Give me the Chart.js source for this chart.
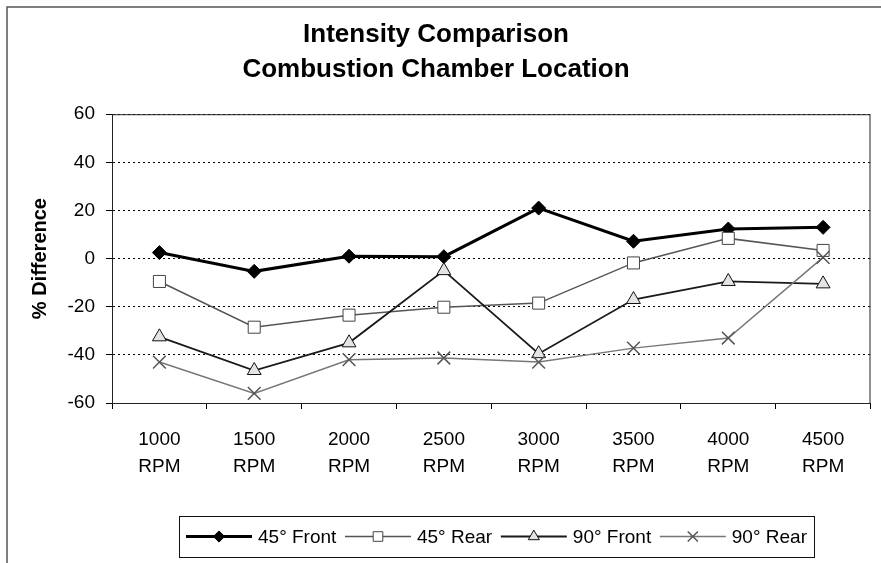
<!DOCTYPE html>
<html>
<head>
<meta charset="utf-8">
<title>Intensity Comparison</title>
<script src="https://cdn.jsdelivr.net/npm/chart.js@4/dist/chart.umd.min.js"></script>
<style>
  html, body { margin: 0; padding: 0; background: #fff; }
  #wrap { width: 881px; height: 563px; position: relative; }
</style>
</head>
<body>
<div id="wrap"><canvas id="c" width="881" height="563"></canvas></div>
<script>
// Engine speeds (x categories)
const categories = [['1000', 'RPM'], ['1500', 'RPM'], ['2000', 'RPM'], ['2500', 'RPM'],
                    ['3000', 'RPM'], ['3500', 'RPM'], ['4000', 'RPM'], ['4500', 'RPM']];

// % difference in intensity per combustion chamber location
const front45 = [2.5, -5.3, 1, 0.8, 21, 7.2, 12.3, 13];
const rear45  = [-9.5, -28.5, -23.5, -20.2, -18.5, -1.8, 8.4, 3.4];
const front90 = [-32.5, -46.5, -35, -5, -39.5, -17, -9.5, -10.5];
const rear90  = [-43, -56, -42, -41.3, -43, -37.2, -33, 0.5];

const seriesNames = ['45\u00B0 Front', '45\u00B0 Rear', '90\u00B0 Front', '90\u00B0 Rear'];
const titleLines = ['Intensity Comparison', 'Combustion Chamber Location'];
const yTitle = '% Difference';

const FONT = '"Liberation Sans", Arial, Helvetica, sans-serif';

// Draw a single marker shape (used for the legend keys)
function marker(ctx, style, x, y, r, fill, stroke, lw) {
  ctx.save();
  ctx.lineWidth = lw;
  ctx.strokeStyle = stroke;
  ctx.fillStyle = fill;
  ctx.beginPath();
  if (style === 'rectRot') {
    ctx.moveTo(x, y - r); ctx.lineTo(x + r, y); ctx.lineTo(x, y + r); ctx.lineTo(x - r, y); ctx.closePath();
    ctx.fill(); ctx.stroke();
  } else if (style === 'rect') {
    const h = r * Math.SQRT1_2;
    ctx.rect(x - h, y - h, 2 * h, 2 * h);
    ctx.fill(); ctx.stroke();
  } else if (style === 'triangle') {
    ctx.moveTo(x, y - r); ctx.lineTo(x + r * 0.866, y + r * 0.5); ctx.lineTo(x - r * 0.866, y + r * 0.5); ctx.closePath();
    ctx.fill(); ctx.stroke();
  } else if (style === 'crossRot') {
    const h = r * Math.SQRT1_2;
    ctx.moveTo(x - h, y - h); ctx.lineTo(x + h, y + h);
    ctx.moveTo(x + h, y - h); ctx.lineTo(x - h, y + h);
    ctx.stroke();
  }
  ctx.restore();
}

// Outer frame, plot-area box and boxed legend
const decorations = {
  id: 'decorations',
  beforeDraw(chart) {
    const ctx = chart.ctx;
    ctx.save();
    ctx.fillStyle = '#fff';
    ctx.fillRect(0, 0, chart.width, chart.height);
    ctx.strokeStyle = '#555';
    ctx.lineWidth = 1.5;
    ctx.beginPath();
    ctx.moveTo(7, chart.height);
    ctx.lineTo(7, 7);
    ctx.lineTo(chart.width, 7);
    ctx.stroke();
    ctx.restore();
  },
  beforeDatasetsDraw(chart) {
    const {ctx, chartArea: a} = chart;
    ctx.save();
    ctx.strokeStyle = '#222';
    ctx.lineWidth = 1;
    ctx.strokeRect(a.left + 0.5, a.top + 0.5, a.right - a.left - 1, a.bottom - a.top);
    ctx.restore();
  },
  afterDraw(chart) {
    const ctx = chart.ctx;
    const box = {left: 179, top: 516, width: 635, height: 41};
    const lineLen = 66, gap = 6, pad = 7;
    ctx.save();
    ctx.fillStyle = '#fff';
    ctx.fillRect(box.left, box.top, box.width, box.height);
    ctx.strokeStyle = '#111';
    ctx.lineWidth = 1;
    ctx.strokeRect(box.left + 0.5, box.top + 0.5, box.width, box.height);
    ctx.font = '19px ' + FONT;
    ctx.textBaseline = 'middle';
    const dss = chart.data.datasets;
    const widths = dss.map(ds => ctx.measureText(ds.label).width);
    const used = widths.reduce((s, w) => s + w, 0) + dss.length * (lineLen + gap);
    const between = Math.max(4, (box.width - 2 * pad - used) / (dss.length - 1));
    const cy = box.top + box.height / 2;
    let x = box.left + pad;
    dss.forEach((ds, i) => {
      ctx.strokeStyle = ds.borderColor;
      ctx.lineWidth = ds.borderWidth;
      ctx.beginPath();
      ctx.moveTo(x, cy);
      ctx.lineTo(x + lineLen, cy);
      ctx.stroke();
      marker(ctx, ds.pointStyle, x + lineLen / 2, cy, ds.pointRadius * 0.8,
             ds.pointBackgroundColor, ds.pointBorderColor, ds.pointBorderWidth);
      ctx.fillStyle = '#000';
      ctx.fillText(ds.label, x + lineLen + gap, cy + 1);
      x += lineLen + gap + widths[i] + between;
    });
    ctx.restore();
  }
};

const values = [front45, rear45, front90, rear90];
const styles = [
  {line: '#000', width: 3,   point: 'rectRot',  radius: 7,   fill: '#000', stroke: '#000', pw: 1},
  {line: '#555', width: 1.5, point: 'rect',     radius: 8.5, fill: '#fff', stroke: '#444', pw: 1},
  {line: '#1a1a1a', width: 1.8, point: 'triangle', radius: 8, fill: '#e4e4e4', stroke: '#111', pw: 1},
  {line: '#777', width: 1.5, point: 'crossRot', radius: 9,   fill: '#fff', stroke: '#555', pw: 1.5}
];

const datasets = values.map((v, i) => ({
  label: seriesNames[i],
  data: v,
  borderColor: styles[i].line,
  borderWidth: styles[i].width,
  tension: 0,
  pointStyle: styles[i].point,
  pointRadius: styles[i].radius,
  pointHoverRadius: styles[i].radius,
  pointBackgroundColor: styles[i].fill,
  pointBorderColor: styles[i].stroke,
  pointBorderWidth: styles[i].pw,
  order: 4 - i
}));

new Chart(document.getElementById('c'), {
  type: 'line',
  data: { labels: categories, datasets },
  plugins: [decorations],
  options: {
    responsive: false,
    animation: false,
    devicePixelRatio: 1,
    layout: { padding: { left: 0, top: 0, right: 9, bottom: 0 } },
    plugins: {
      legend: { display: false },
      tooltip: { enabled: false },
      title: {
        display: true,
        text: titleLines,
        color: '#000',
        font: { family: FONT, size: 26, weight: 'bold', lineHeight: 1.35 },
        padding: { top: 17, bottom: 27 }
      }
    },
    scales: {
      x: {
        type: 'category',
        offset: true,
        grid: { offset: true, drawOnChartArea: false, drawTicks: true, tickLength: 6, tickColor: '#000', tickWidth: 1 },
        border: { display: true, color: '#000', width: 1 },
        ticks: { color: '#000', font: { family: FONT, size: 19, lineHeight: 1.42 }, padding: 17, maxRotation: 0, autoSkip: false },
        afterFit(scale) { scale.height = 160; }
      },
      y: {
        min: -60,
        max: 60,
        ticks: { stepSize: 20, color: '#000', font: { family: FONT, size: 19 }, padding: 11 },
        grid: { color: '#000', lineWidth: 1, tickLength: 6, tickColor: '#000', tickWidth: 1, tickBorderDash: [] },
        border: { display: true, color: '#000', width: 1, dash: [2, 3] },
        title: { display: true, text: yTitle, color: '#000', font: { family: FONT, size: 20, weight: 'bold' }, padding: { top: 28, bottom: 0 } },
        afterFit(scale) { scale.width = 112; }
      }
    }
  }
});
</script>
</body>
</html>
